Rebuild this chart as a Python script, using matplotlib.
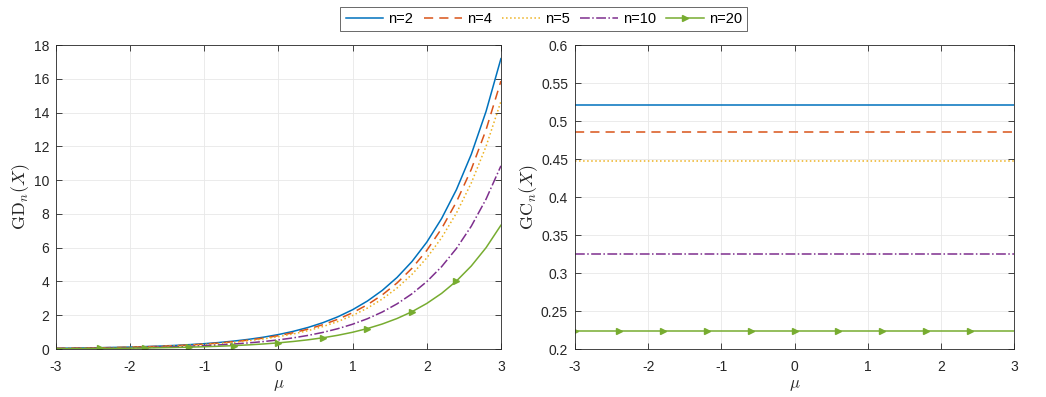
import numpy as np
import matplotlib
matplotlib.use('Agg')
import matplotlib.pyplot as plt
from matplotlib.ticker import FuncFormatter

plt.rcParams['font.family'] = ['Liberation Sans', 'DejaVu Sans']
plt.rcParams['mathtext.fontset'] = 'cm'
plt.rcParams['axes.unicode_minus'] = False

# mu grid (step 0.2) and values
mu = [-3.0, -2.8, -2.6, -2.4, -2.2, -2.0, -1.8, -1.6, -1.4, -1.2, -1.0,
      -0.8, -0.6, -0.4, -0.2, 0.0, 0.2, 0.4, 0.6, 0.8, 1.0,
      1.2, 1.4, 1.6, 1.8, 2.0, 2.2, 2.4, 2.6, 2.8, 3.0]

gd_n2 = [0.043, 0.052, 0.064, 0.078, 0.095, 0.116, 0.142, 0.173, 0.211, 0.258, 0.315,
         0.385, 0.470, 0.574, 0.701, 0.856, 1.046, 1.277, 1.560, 1.905, 2.327,
         2.842, 3.471, 4.240, 5.178, 6.325, 7.725, 9.436, 11.525, 14.077, 17.193]
gd_n4 = [0.039, 0.048, 0.059, 0.072, 0.088, 0.107, 0.131, 0.160, 0.195, 0.238, 0.291,
         0.355, 0.434, 0.530, 0.647, 0.790, 0.965, 1.179, 1.440, 1.758, 2.148,
         2.623, 3.204, 3.913, 4.779, 5.837, 7.130, 8.708, 10.636, 12.991, 15.868]
gd_n5 = [0.036, 0.044, 0.054, 0.066, 0.081, 0.099, 0.121, 0.147, 0.180, 0.220, 0.269,
         0.328, 0.401, 0.489, 0.598, 0.730, 0.892, 1.089, 1.330, 1.625, 1.984,
         2.424, 2.960, 3.616, 4.416, 5.394, 6.588, 8.047, 9.829, 12.005, 14.662]
gd_n10 = [0.027, 0.033, 0.040, 0.049, 0.060, 0.073, 0.089, 0.109, 0.133, 0.163, 0.199,
          0.243, 0.296, 0.362, 0.442, 0.540, 0.660, 0.806, 0.984, 1.202, 1.468,
          1.793, 2.190, 2.675, 3.267, 3.990, 4.874, 5.953, 7.270, 8.880, 10.846]
gd_n20 = [0.018, 0.022, 0.027, 0.033, 0.040, 0.049, 0.060, 0.074, 0.090, 0.110, 0.134,
          0.164, 0.200, 0.245, 0.299, 0.365, 0.446, 0.545, 0.665, 0.812, 0.992,
          1.212, 1.480, 1.808, 2.208, 2.697, 3.294, 4.024, 4.914, 6.002, 7.331]

# constant values in the right panel
gc_vals = [0.521, 0.485, 0.448, 0.325, 0.224]

labels = ['n=2', 'n=4', 'n=5', 'n=10', 'n=20']
colors = ['#0072BD', '#D95319', '#EDB120', '#7E2F8E', '#77AC30']
styles = ['-', (0, (6, 4)), ':', '-.', '-']
markers = [None, None, None, None, '>']

fig = plt.figure(figsize=(10.46, 3.97), dpi=100)
ax1 = fig.add_axes([0.0535, 0.1209, 0.4254, 0.7657])
ax2 = fig.add_axes([0.5497, 0.1209, 0.4198, 0.7657])

gd = [gd_n2, gd_n4, gd_n5, gd_n10, gd_n20]
for i in range(5):
    ax1.plot(mu, gd[i], linestyle=styles[i], color=colors[i], lw=1.1,
             marker=markers[i], markevery=slice(0, 30, 3), ms=5,
             label=labels[i])
    ax2.plot(mu, [gc_vals[i]] * len(mu), linestyle=styles[i], color=colors[i],
             lw=1.1, marker=markers[i], markevery=slice(0, 30, 3), ms=5)

def style(ax):
    ax.set_xlim(-3, 3)
    ax.set_xticks([-3, -2, -1, 0, 1, 2, 3])
    ax.grid(True, color='#e8e8e8', lw=0.6)
    ax.set_axisbelow(True)
    ax.tick_params(direction='in', top=True, right=True, length=4,
                   labelsize=10, colors='#262626', width=0.6)
    ax.tick_params(axis='x', pad=8)
    ax.tick_params(axis='y', pad=5)
    for s in ax.spines.values():
        s.set_color('#262626')
        s.set_linewidth(0.6)
    ax.set_xlabel(r'$\mu$', fontsize=12, color='#262626', labelpad=3)
    ax.yaxis.set_major_formatter(FuncFormatter(lambda v, p: '%g' % round(v, 4)))

style(ax1)
ax1.set_ylim(0, 18)
ax1.set_yticks(range(0, 19, 2))
ax1.set_ylabel(r'$\mathrm{GD}_n(X)$', fontsize=13, color='#262626', labelpad=1)

style(ax2)
ax2.set_ylim(0.2, 0.6)
ax2.set_yticks([0.2, 0.25, 0.3, 0.35, 0.4, 0.45, 0.5, 0.55, 0.6])
ax2.set_ylabel(r'$\mathrm{GC}_n(X)$', fontsize=13, color='#262626', labelpad=1)

leg = fig.legend(loc='center', bbox_to_anchor=(0.52, 0.952), ncol=5,
                 fontsize=10.5, frameon=True, fancybox=False, handlelength=2.6,
                 columnspacing=0.7, handletextpad=0.35, borderpad=0.35)
leg.get_frame().set_edgecolor('#262626')
leg.get_frame().set_linewidth(0.6)

fig.savefig('out.png', dpi=100)
